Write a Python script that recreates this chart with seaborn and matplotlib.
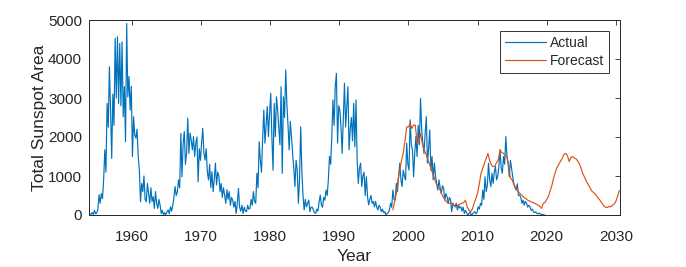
import numpy as np
import pandas as pd
import matplotlib
matplotlib.use("Agg")
import matplotlib.pyplot as plt
import seaborn as sns

# ---- data (bi-monthly samples of the actual record, quarterly forecast) ----
actual_start = 1953.75
actual_step = 1 / 6
actual_values = [
    80, 30,
    20, 60, 10, 120, 30, 50,            # 1954
    150, 520, 300, 550, 420, 900,       # 1955
    1670, 1100, 2860, 2250, 3800, 2700, # 1956
    1450, 3100, 2300, 4530, 3000, 4570, # 1957
    2860, 4400, 2800, 4440, 2520, 3290, # 1958
    1880, 4910, 3030, 3550, 2690, 3300, # 1959
    1500, 2520, 2050, 1970, 2200, 1500, # 1960
    1150, 340, 810, 600, 1000, 400,     # 1961
    340, 810, 555, 300, 700, 350,       # 1962
    470, 170, 600, 300, 170, 400,       # 1963
    250, 40, 120, 0, 60, 10,            # 1964
    80, 130, 30, 210, 100, 250,         # 1965
    450, 730, 500, 600, 900, 700,       # 1966
    2090, 980, 1840, 2140, 1300, 1600,  # 1967
    2480, 1580, 2100, 1920, 1670, 2010, # 1968
    1500, 1840, 2000, 850, 1700, 1400,  # 1969
    1840, 2220, 1600, 1410, 1700, 1100, # 1970
    900, 1300, 700, 1110, 600, 900,     # 1971
    1330, 770, 1100, 1000, 600, 810,    # 1972
    450, 700, 510, 300, 650, 400,       # 1973
    600, 250, 450, 380, 200, 350,       # 1974
    40, 300, 680, 200, 100, 250,        # 1975
    40, 200, 100, 85, 250, 150,         # 1976
    170, 400, 250, 600, 350, 300,       # 1977
    1070, 700, 1880, 1410, 1100, 1970,  # 1978
    2690, 1840, 2300, 2780, 2010, 2600, # 1979
    3120, 2000, 1150, 2860, 2010, 3030, # 1980
    2690, 2260, 1800, 3290, 1070, 3030, # 1981
    2500, 3720, 2860, 2300, 1670, 2400, # 1982
    2010, 1580, 1200, 730, 1400, 1150,  # 1983
    300, 900, 2260, 1150, 500, 130,     # 1984
    400, 210, 300, 380, 85, 200,        # 1985
    200, 130, 60, 40, 150, 100,         # 1986
    340, 510, 250, 200, 450, 380,       # 1987
    640, 500, 900, 1500, 1300, 2010,    # 1988
    2950, 2300, 3290, 3630, 1840, 2800, # 1989
    2690, 2260, 1580, 2500, 3380, 2260, # 1990
    2800, 3290, 1670, 2200, 2500, 1900, # 1991
    2860, 1750, 2950, 1400, 810, 1200,  # 1992
    1330, 730, 1000, 1100, 500, 980,    # 1993
    470, 260, 400, 500, 300, 350,       # 1994
    210, 350, 200, 130, 250, 200,       # 1995
    85, 150, 60, 85, 0, 40,             # 1996
    60, 130, 300, 200, 640, 400,        # 1997
    380, 810, 600, 1000, 1330, 900,     # 1998
    730, 1150, 1000, 900, 1840, 1300,   # 1999
    1150, 2440, 1800, 1670, 980, 1600,  # 2000
    2010, 1500, 2300, 1800, 2990, 2200, # 2001
    1840, 1580, 2100, 2520, 1330, 1700, # 2002
    2180, 1150, 1500, 900, 1330, 1000,  # 2003
    810, 640, 900, 700, 555, 750,       # 2004
    700, 380, 550, 470, 300, 450,       # 2005
    400, 85, 300, 250, 210, 300,        # 2006
    130, 250, 180, 210, 100, 200,       # 2007
    40, 120, 60, 0, 30, 80,             # 2008
    0, 20, 60, 85, 30, 60,              # 2009
    210, 150, 300, 250, 640, 400,       # 2010
    980, 600, 770, 1330, 900, 730,      # 2011
    1070, 810, 1100, 1240, 900, 1000,   # 2012
    1240, 1670, 1200, 1070, 1500, 1300, # 2013
    2010, 1500, 1330, 980, 1400, 1200,  # 2014
    980, 800, 700, 640, 800, 500,       # 2015
    510, 450, 300, 380, 250, 350,       # 2016
    300, 200, 250, 210, 120, 150,       # 2017
    85, 60, 80, 40, 30, 50,             # 2018
    25, 10, 20, 0, 0,                   # 2019
]

forecast_start = 1997.75
forecast_step = 0.25
forecast_values = [
    130,
    350, 555, 900, 1150,        # 1998
    1400, 1580, 1900, 2260,     # 1999
    2260, 2350, 2220, 2310,     # 2000
    2300, 1840, 1880, 2090,     # 2001
    1840, 1670, 1580, 1450,     # 2002
    1330, 1200, 1070, 950,      # 2003
    810, 740, 680, 560,         # 2004
    470, 400, 340, 300,         # 2005
    300, 310, 280, 210,         # 2006
    230, 260, 280, 300,         # 2007
    320, 380, 210, 120,         # 2008
    85, 150, 300, 420,          # 2009
    555, 800, 1070, 1200,       # 2010
    1330, 1450, 1580, 1400,     # 2011
    1280, 1240, 1250, 1350,     # 2012
    1410, 1670, 1600, 1580,     # 2013
    1520, 1500, 1250, 950,      # 2014
    900, 780, 700, 620,         # 2015
    580, 530, 490, 440,         # 2016
    420, 380, 360, 340,         # 2017
    320, 300, 280, 250,         # 2018
    220, 170, 300, 320,         # 2019
    400, 480, 620, 760,         # 2020
    950, 1100, 1220, 1300,      # 2021
    1380, 1450, 1560, 1580,     # 2022
    1520, 1370, 1480, 1500,     # 2023
    1460, 1440, 1380, 1300,     # 2024
    1180, 1050, 960, 860,       # 2025
    780, 700, 620, 580,         # 2026
    540, 480, 420, 370,         # 2027
    300, 240, 200, 190,         # 2028
    220, 210, 250, 280,         # 2029
    350, 480, 630,              # 2030
]

series_names = ["Actual", "Forecast"]
x_ticks = [1960, 1970, 1980, 1990, 2000, 2010, 2020, 2030]
y_ticks = [0, 1000, 2000, 3000, 4000, 5000]

actual_years = actual_start + actual_step * np.arange(len(actual_values))
forecast_years = forecast_start + forecast_step * np.arange(len(forecast_values))

df = pd.concat([
    pd.DataFrame({"Year": actual_years, "Area": actual_values, "Series": series_names[0]}),
    pd.DataFrame({"Year": forecast_years, "Area": forecast_values, "Series": series_names[1]}),
], ignore_index=True)

# ---- style ----
sns.set_style("white")
plt.rcParams["font.family"] = ["Liberation Sans", "DejaVu Sans"]
text_col = "#262626"

fig = plt.figure(figsize=(6.86, 2.67), dpi=100)
ax = fig.add_axes([89 / 686, 1 - 215 / 267, (620 - 89) / 686, (215 - 20) / 267])

sns.lineplot(data=df, x="Year", y="Area", hue="Series",
             palette=["#0072BD", "#D95319"], linewidth=0.85,
             estimator=None, sort=False, ax=ax)

ax.set_xlim(1953.8, 2030.6)
ax.set_ylim(0, 5000)
ax.set_xticks(x_ticks)
ax.set_yticks(y_ticks)
ax.tick_params(axis="both", direction="in", length=3.5, width=0.6,
               colors=text_col, labelsize=11, top=True, right=True)
ax.tick_params(axis="x", pad=10.5)
ax.tick_params(axis="y", pad=5)
for s in ax.spines.values():
    s.set_color(text_col)
    s.set_linewidth(0.7)

ax.set_xlabel("Year", fontsize=12.5, color=text_col, labelpad=4)
ax.set_ylabel("Total Sunspot Area", fontsize=12.5, color=text_col, labelpad=1)

leg = ax.legend(loc="upper right", fontsize=10, frameon=True, fancybox=False,
                handlelength=2.9, handletextpad=0.3, borderpad=0.35,
                labelspacing=0.3, borderaxespad=0.8)
leg.get_frame().set_edgecolor("black")
leg.get_frame().set_linewidth(0.7)
leg.set_title(None)

fig.savefig("out.png", dpi=100)
